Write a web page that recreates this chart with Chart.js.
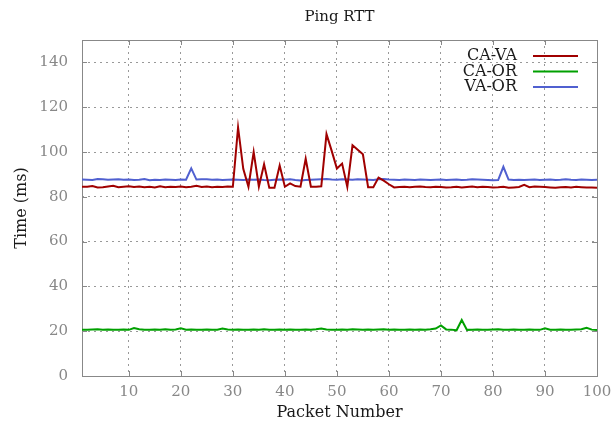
<!DOCTYPE html>
<html>
<head>
<meta charset="utf-8">
<script src="https://cdn.jsdelivr.net/npm/chart.js@4.4.1/dist/chart.umd.min.js"></script>
<style>
  html, body { margin: 0; padding: 0; background: #fff; }
  #wrap { width: 611px; height: 425px; }
</style>
</head>
<body>
<div id="wrap"><canvas id="ping-chart" width="611" height="425"></canvas></div>
<script>
(function() {
  'use strict';

  var TITLE = 'Ping RTT';
  var X_TITLE = 'Packet Number';
  var Y_TITLE = 'Time (ms)';

  var packets = [];
  for (var p = 1; p <= 100; p++) packets.push(p);

  var xTicks = [10, 20, 30, 40, 50, 60, 70, 80, 90, 100];
  var yTicks = [0, 20, 40, 60, 80, 100, 120, 140];

  var caVa = [
    84.5, 84.5, 84.8, 84.2, 84.3, 84.6, 84.9, 84.3, 84.5, 84.7,
    84.4, 84.6, 84.3, 84.5, 84.2, 84.7, 84.3, 84.5, 84.4, 84.6,
    84.3, 84.5, 84.9, 84.4, 84.6, 84.3, 84.5, 84.4, 84.6, 84.5,
    111, 92.5, 84.5, 100, 84.5, 94.5, 84.0, 84.0, 94.0, 84.5,
    86.0, 84.8, 84.5, 97.0, 84.5, 84.5, 84.7, 108, 100.5, 92.6,
    94.8, 84.4, 103, 101, 99.0, 84.3, 84.3, 88.6, 87.2, 85.6,
    84.2, 84.4, 84.5, 84.3, 84.5, 84.6, 84.4, 84.3, 84.5, 84.4,
    84.2, 84.3, 84.5, 84.2, 84.4, 84.6, 84.3, 84.5, 84.4, 84.2,
    84.3, 84.5, 84.0, 84.2, 84.4, 85.3, 84.3, 84.6, 84.5, 84.4,
    84.2, 84.0, 84.3, 84.4, 84.2, 84.5, 84.3, 84.1, 84.2, 84.0
  ];

  var caOr = [
    20.6, 20.7, 20.8, 20.9, 20.7, 20.8, 20.6, 20.7, 20.8, 20.6,
    21.4, 20.9, 20.7, 20.6, 20.8, 20.7, 20.9, 20.6, 20.8, 21.3,
    20.7, 20.8, 20.6, 20.7, 20.8, 20.6, 20.7, 21.2, 20.8, 20.7,
    20.8, 20.7, 20.6, 20.8, 20.7, 20.9, 20.7, 20.6, 20.8, 20.7,
    20.8, 20.6, 20.7, 20.8, 20.7, 20.9, 21.2, 20.8, 20.6, 20.7,
    20.8, 20.7, 20.9, 20.8, 20.6, 20.8, 20.7, 20.8, 20.9, 20.7,
    20.8, 20.7, 20.6, 20.8, 20.7, 20.8, 20.7, 20.9, 21.2, 22.6,
    20.8, 20.7, 20.4, 25.0, 20.6, 20.7, 20.8, 20.6, 20.7, 20.8,
    20.9, 20.7, 20.6, 20.8, 20.7, 20.6, 20.8, 20.7, 20.6, 21.3,
    20.7, 20.6, 20.8, 20.7, 20.6, 20.8, 20.9, 21.5, 20.7, 20.5
  ];

  var vaOr = [
    87.7, 87.6, 87.5, 87.9, 87.8, 87.6, 87.7, 87.8, 87.6, 87.7,
    87.5, 87.6, 87.9, 87.4, 87.6, 87.5, 87.7, 87.6, 87.5, 87.7,
    87.6, 92.7, 87.7, 87.8, 87.8, 87.6, 87.7, 87.5, 87.6, 87.7,
    87.6, 87.5, 87.7, 87.6, 87.7, 87.5, 87.4, 87.6, 87.7, 87.6,
    87.8, 87.5, 87.3, 87.5, 87.6, 87.7, 87.8, 87.9, 87.7, 87.6,
    87.8, 87.7, 87.6, 87.8, 87.7, 87.6, 87.5, 87.8, 87.9, 87.7,
    87.6, 87.5, 87.7, 87.6, 87.5, 87.7, 87.6, 87.5, 87.6, 87.7,
    87.5, 87.6, 87.7, 87.5, 87.6, 87.8, 87.7, 87.6, 87.5, 87.4,
    87.5, 93.4, 87.7, 87.5, 87.6, 87.5, 87.6, 87.7, 87.5, 87.6,
    87.7, 87.5, 87.6, 87.8, 87.6, 87.5, 87.7, 87.6, 87.5, 87.6
  ];

  var RED   = '#a00000';
  var GREEN = '#00a000';
  var BLUE  = '#5060d0';

  var FONT = "'DejaVu Serif', serif";
  var TICK_COLOR = '#888888';
  var TEXT_COLOR = '#1a1a1a';
  var GRID_COLOR = '#999999';

  function points(ys) {
    return packets.map(function(x, i) { return { x: x, y: ys[i] }; });
  }

  function series(label, ys, color) {
    return {
      label: label,
      data: points(ys),
      borderColor: color,
      backgroundColor: color,
      borderWidth: 2,
      pointRadius: 0,
      tension: 0,
      fill: false
    };
  }

  /* titolo centrato sull'area del grafico, come gnuplot */
  var titlePlugin = {
    id: 'plotTitle',
    afterDraw: function(chart) {
      var ctx = chart.ctx, a = chart.chartArea;
      ctx.save();
      ctx.font = '15px ' + FONT;
      ctx.fillStyle = TEXT_COLOR;
      ctx.textAlign = 'center';
      ctx.textBaseline = 'middle';
      ctx.fillText(TITLE, (a.left + a.right) / 2, 17);
      ctx.restore();
    }
  };

  /* legenda: testo allineato a destra, poi il campione di linea */
  var legendPlugin = {
    id: 'gpLegend',
    afterDatasetsDraw: function(chart) {
      var ctx = chart.ctx, a = chart.chartArea;
      ctx.save();
      ctx.font = '16px ' + FONT;
      ctx.textAlign = 'right';
      ctx.textBaseline = 'middle';
      chart.data.datasets.forEach(function(ds, i) {
        var y = a.top + 16 + i * 15.5;
        ctx.fillStyle = TEXT_COLOR;
        ctx.fillText(ds.label, a.right - 80, y);
        ctx.strokeStyle = ds.borderColor;
        ctx.lineWidth = 2;
        ctx.beginPath();
        ctx.moveTo(a.right - 64, y);
        ctx.lineTo(a.right - 19, y);
        ctx.stroke();
      });
      ctx.restore();
    }
  };

  /* tacche verso l'interno su tutti i lati */
  var tickPlugin = {
    id: 'innerTicks',
    beforeDatasetsDraw: function(chart) {
      var ctx = chart.ctx, a = chart.chartArea;
      var xs = chart.scales.x, ys = chart.scales.y;
      ctx.save();
      ctx.strokeStyle = '#888888';
      ctx.lineWidth = 1;
      ctx.beginPath();
      xTicks.forEach(function(v) {
        var px = Math.round(xs.getPixelForValue(v)) + 0.5;
        ctx.moveTo(px, a.bottom); ctx.lineTo(px, a.bottom - 5);
        ctx.moveTo(px, a.top); ctx.lineTo(px, a.top + 5);
      });
      yTicks.forEach(function(v) {
        var py = Math.round(ys.getPixelForValue(v)) + 0.5;
        ctx.moveTo(a.left, py); ctx.lineTo(a.left + 5, py);
        ctx.moveTo(a.right, py); ctx.lineTo(a.right - 5, py);
      });
      ctx.stroke();
      ctx.strokeRect(a.left + 0.5, a.top + 0.5, a.right - a.left, a.bottom - a.top);
      ctx.restore();
    }
  };

  new Chart(document.getElementById('ping-chart'), {
    type: 'line',
    data: {
      datasets: [
        series('CA-VA', caVa, RED),
        series('CA-OR', caOr, GREEN),
        series('VA-OR', vaOr, BLUE)
      ]
    },
    options: {
      responsive: false,
      animation: false,
      layout: { padding: { top: 40, right: 14, left: 0, bottom: 0 } },
      plugins: {
        legend: { display: false },
        title: { display: false },
        tooltip: { enabled: false }
      },
      scales: {
        x: {
          type: 'linear',
          min: 1,
          max: 100,
          afterBuildTicks: function(s) { s.ticks = xTicks.map(function(v) { return { value: v }; }); },
          afterFit: function(s) { s.height = 49; s.paddingLeft = 0; s.paddingRight = 0; },
          ticks: { color: TICK_COLOR, font: { family: FONT, size: 15 }, padding: 7, maxRotation: 0 },
          grid: { color: GRID_COLOR, drawTicks: false, lineWidth: 1 },
          border: { display: false, dash: [2, 4] },
          title: { display: true, text: X_TITLE, color: TEXT_COLOR, font: { family: FONT, size: 16 }, padding: { top: 2, bottom: 3 } }
        },
        y: {
          type: 'linear',
          min: 0,
          max: 150,
          afterBuildTicks: function(s) { s.ticks = yTicks.map(function(v) { return { value: v }; }); },
          afterFit: function(s) { s.width = 82; s.paddingTop = 0; s.paddingBottom = 0; },
          ticks: { color: TICK_COLOR, font: { family: FONT, size: 15 }, padding: 14 },
          grid: { color: GRID_COLOR, drawTicks: false, lineWidth: 1 },
          border: { display: false, dash: [2, 4] },
          title: { display: true, text: Y_TITLE, color: TEXT_COLOR, font: { family: FONT, size: 16 }, padding: { top: 12, bottom: 6 } }
        }
      }
    },
    plugins: [tickPlugin, legendPlugin, titlePlugin]
  });
})();
</script>
</body>
</html>
